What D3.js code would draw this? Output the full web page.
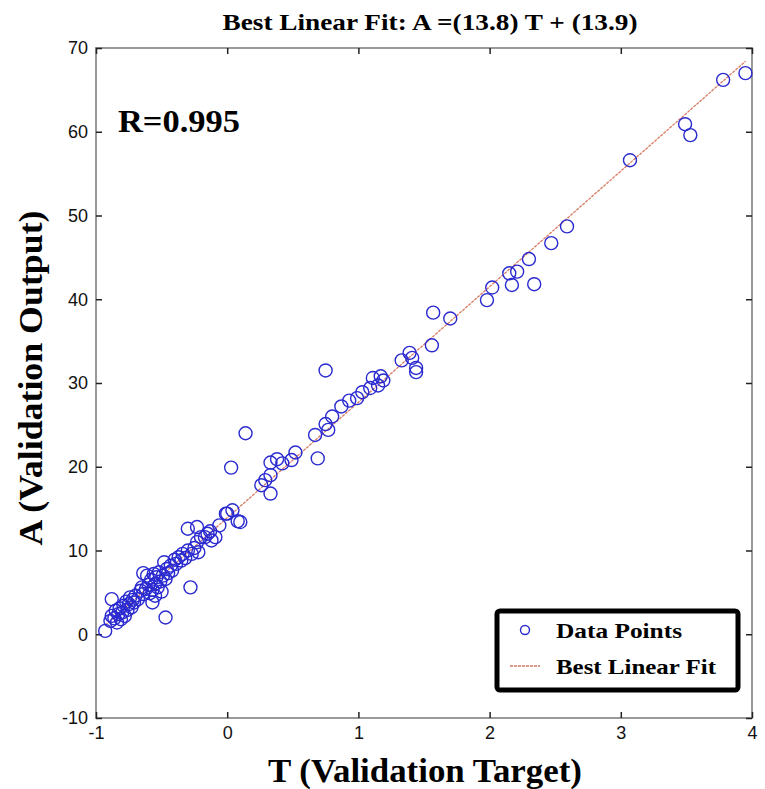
<!DOCTYPE html>
<html>
<meta charset="utf-8">
<head>
    <script src="https://d3js.org/d3.v7.min.js"></script>
    <style>
        body { margin: 0; background: #fff; }
        .tick text { font-family: "Liberation Sans", Arial, sans-serif; font-size: 18px; fill: #111; }
    </style>
</head>
<body>
    <script>
        var width = 765,
            height = 789;

        var margin = {top: 48, right: 13, bottom: 71, left: 96};

        // fit line A = slope*T + intercept
        var slope = 13.8, intercept = 13.9;

        var xTicks = [-1, 0, 1, 2, 3, 4];
        var yTicks = [-10, 0, 10, 20, 30, 40, 50, 60, 70];

        // validation target (T) and output (A)
        var targetT = [
            -0.93, -0.89, -0.88, -0.86, -0.85, -0.88, -0.84, -0.83, -0.82, -0.81,
            -0.80, -0.79, -0.78, -0.77, -0.76, -0.75, -0.74, -0.73, -0.72, -0.71,
            -0.70, -0.68, -0.66, -0.65, -0.64, -0.64, -0.62, -0.61, -0.60, -0.59,
            -0.58, -0.57, -0.57, -0.56, -0.55, -0.55, -0.54, -0.53, -0.52, -0.51,
            -0.50, -0.49, -0.48, -0.47, -0.46, -0.45, -0.43, -0.42, -0.40, -0.39,
            -0.37, -0.35, -0.34, -0.32, -0.30, -0.30, -0.27, -0.25, -0.23, -0.23,
            -0.22, -0.20, -0.17, -0.15, -0.13, -0.12, -0.09, -0.28, -0.47,
            -0.01, 0.04, 0.08, -0.06, 0.00, 0.10,
            0.03, 0.14, 0.26, 0.29, 0.33, 0.33, 0.33, 0.38, 0.42, 0.49, 0.52,
            0.67, 0.69, 0.75, 0.77, 0.75, 0.80, 0.87, 0.93, 0.99, 1.03, 1.09,
            1.11, 1.15, 1.19, 1.17, 1.33, 1.39, 1.41, 1.44, 1.44, 1.56, 1.57,
            1.70, 1.98, 2.02, 2.15, 2.17, 2.21, 2.30, 2.34, 2.47, 2.59, 3.07,
            3.49, 3.53, 3.78, 3.95
        ];
        var outputA = [
            0.4, 1.6, 2.2, 1.9, 2.8, 4.2, 1.4, 2.4, 3.1, 1.8,
            2.6, 3.4, 2.2, 3.9, 2.9, 3.6, 4.4, 3.2, 4.1, 3.8,
            4.6, 4.2, 5.2, 5.6, 4.8, 7.3, 5.4, 7.0, 5.9, 4.9,
            6.5, 5.3, 3.8, 7.2, 6.0, 4.6, 6.8, 5.6, 7.4, 6.3,
            5.1, 7.0, 8.6, 6.6, 7.8, 7.3, 8.2, 7.6, 8.9, 8.4,
            9.2, 8.8, 9.6, 9.1, 10.0, 12.6, 9.6, 10.3, 11.0, 12.8,
            9.8, 11.6, 11.6, 12.0, 12.3, 11.2, 11.6, 5.6, 2.0,
            14.4, 14.8, 13.5, 13.0, 14.4, 13.4,
            19.9, 24.0, 17.8, 18.4, 16.8, 19.0, 20.5, 20.9, 20.4, 20.8, 21.7,
            23.8, 21.0, 31.5, 24.4, 25.1, 26.0, 27.2, 27.9, 28.2, 28.9, 29.4,
            30.6, 29.7, 30.3, 30.8, 32.7, 33.6, 33.0, 31.8, 31.3, 34.5, 38.4,
            37.7, 39.9, 41.4, 43.1, 41.7, 43.3, 44.8, 41.8, 46.7, 48.7, 56.6,
            60.9, 59.6, 66.2, 67.0
        ];

        var points = targetT.map(function(t, i) { return {t: t, a: outputA[i]}; });

        var svg = d3.select("body").append("svg")
            .attr("width", width)
            .attr("height", height);

        var x = d3.scaleLinear()
            .domain([-1, 4])
            .range([margin.left, width - margin.right]);

        var y = d3.scaleLinear()
            .domain([-10, 70])
            .range([height - margin.bottom, margin.top]);

        // frame
        svg.append("rect")
            .attr("x", x(-1))
            .attr("y", y(70))
            .attr("width", x(4) - x(-1))
            .attr("height", y(-10) - y(70))
            .attr("fill", "none")
            .attr("stroke", "#999")
            .attr("stroke-width", 2);

        var plain = function(d) { return String(d); };

        var axBottom = svg.append("g")
            .attr("transform", "translate(0," + y(-10) + ")")
            .call(d3.axisBottom(x).tickValues(xTicks).tickSize(-6).tickPadding(8).tickFormat(plain));
        var axLeft = svg.append("g")
            .attr("transform", "translate(" + x(-1) + ",0)")
            .call(d3.axisLeft(y).tickValues(yTicks).tickSize(-6).tickPadding(8).tickFormat(plain));
        var axTop = svg.append("g")
            .attr("transform", "translate(0," + y(70) + ")")
            .call(d3.axisTop(x).tickValues(xTicks).tickSize(-6).tickFormat(""));
        var axRight = svg.append("g")
            .attr("transform", "translate(" + x(4) + ",0)")
            .call(d3.axisRight(y).tickValues(yTicks).tickSize(-6).tickFormat(""));

        [axBottom, axLeft, axTop, axRight].forEach(function(ax) {
            ax.select(".domain").remove();
            ax.selectAll(".tick line").attr("stroke", "#222").attr("stroke-width", 1.5);
        });

        // fit line
        var tExtent = d3.extent(targetT);
        svg.append("line")
            .attr("x1", x(tExtent[0]))
            .attr("y1", y(slope * tExtent[0] + intercept))
            .attr("x2", x(tExtent[1]))
            .attr("y2", y(slope * tExtent[1] + intercept))
            .attr("stroke", "#d97a62")
            .attr("stroke-width", 1.3)
            .attr("stroke-dasharray", "3,1");

        svg.selectAll("circle.pt")
            .data(points)
            .enter()
            .append("circle")
            .attr("class", "pt")
            .attr("cx", function(d) { return x(d.t); })
            .attr("cy", function(d) { return y(d.a); })
            .attr("r", 6.5)
            .attr("fill", "none")
            .attr("stroke", "#2a2ad0")
            .attr("stroke-width", 1.4);

        // titles
        var serif = "'Liberation Serif', 'Times New Roman', serif";

        svg.append("text")
            .attr("x", 430)
            .attr("y", 30)
            .attr("text-anchor", "middle")
            .attr("font-family", serif)
            .attr("font-weight", "bold")
            .attr("font-size", 24)
            .attr("textLength", 415)
            .attr("lengthAdjust", "spacingAndGlyphs")
            .text("Best Linear Fit: A =(13.8) T + (13.9)");

        svg.append("text")
            .attr("x", 118)
            .attr("y", 132)
            .attr("font-family", serif)
            .attr("font-weight", "bold")
            .attr("font-size", 32)
            .attr("textLength", 122)
            .attr("lengthAdjust", "spacingAndGlyphs")
            .text("R=0.995");

        svg.append("text")
            .attr("x", 425)
            .attr("y", 782)
            .attr("text-anchor", "middle")
            .attr("font-family", serif)
            .attr("font-weight", "bold")
            .attr("font-size", 33)
            .attr("textLength", 314)
            .attr("lengthAdjust", "spacingAndGlyphs")
            .text("T (Validation Target)");

        svg.append("text")
            .attr("transform", "translate(42,378) rotate(-90)")
            .attr("text-anchor", "middle")
            .attr("font-family", serif)
            .attr("font-weight", "bold")
            .attr("font-size", 33)
            .attr("textLength", 335)
            .attr("lengthAdjust", "spacingAndGlyphs")
            .text("A (Validation Output)");

        // legend
        var lg = svg.append("g").attr("transform", "translate(497,611)");
        lg.append("rect")
            .attr("width", 241)
            .attr("height", 79)
            .attr("rx", 3)
            .attr("fill", "#fff")
            .attr("stroke", "#000")
            .attr("stroke-width", 5);
        lg.append("circle")
            .attr("cx", 28).attr("cy", 19).attr("r", 4.5)
            .attr("fill", "none").attr("stroke", "#2a2ad0").attr("stroke-width", 1.4);
        lg.append("line")
            .attr("x1", 13).attr("x2", 43).attr("y1", 55).attr("y2", 55)
            .attr("stroke", "#d97a62").attr("stroke-width", 1.3).attr("stroke-dasharray", "3,1");
        lg.append("text")
            .attr("x", 59).attr("y", 27)
            .attr("font-family", serif).attr("font-weight", "bold").attr("font-size", 21)
            .attr("textLength", 126).attr("lengthAdjust", "spacingAndGlyphs")
            .text("Data Points");
        lg.append("text")
            .attr("x", 59).attr("y", 63)
            .attr("font-family", serif).attr("font-weight", "bold").attr("font-size", 21)
            .attr("textLength", 160).attr("lengthAdjust", "spacingAndGlyphs")
            .text("Best Linear Fit");
    </script>
</body>
</html>
